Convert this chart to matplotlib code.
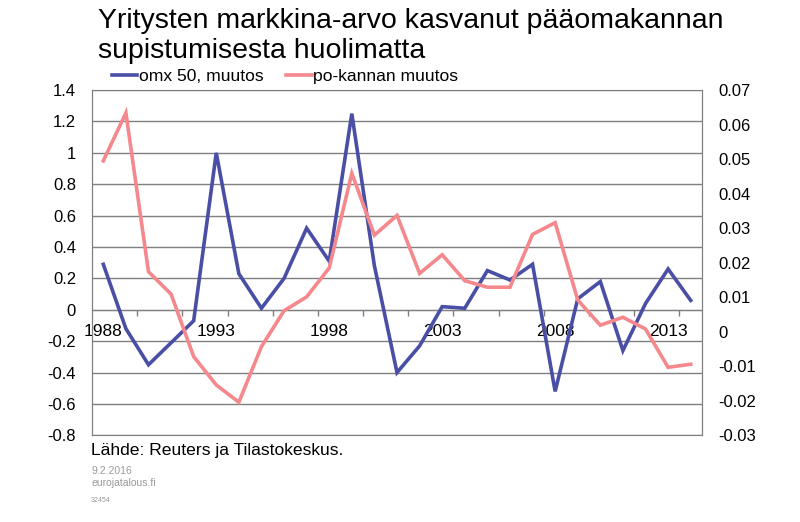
import matplotlib
matplotlib.use("Agg")
import matplotlib.pyplot as plt
from matplotlib.lines import Line2D

plt.rcParams['font.family'] = ['Liberation Sans', 'DejaVu Sans']

years = list(range(1988, 2015))
omx = [0.29, -0.12, -0.35, -0.21, -0.07, 1.00, 0.23, 0.01, 0.20, 0.52,
       0.31, 1.25, 0.28, -0.40, -0.23, 0.02, 0.01, 0.25, 0.19, 0.29,
       -0.52, 0.07, 0.18, -0.26, 0.04, 0.26, 0.06]
po = [0.0495, 0.0634, 0.0174, 0.0109, -0.0072, -0.0154, -0.0204, -0.0043, 0.0061, 0.0101,
      0.0185, 0.0459, 0.0280, 0.0337, 0.0169, 0.0223, 0.0148, 0.0129, 0.0129, 0.0282,
      0.0316, 0.0092, 0.0019, 0.0042, 0.0008, -0.0103, -0.0094]
left_ticks = [-0.8, -0.6, -0.4, -0.2, 0, 0.2, 0.4, 0.6, 0.8, 1, 1.2, 1.4]
left_labels = ['-0.8', '-0.6', '-0.4', '-0.2', '0', '0.2', '0.4', '0.6', '0.8', '1', '1.2', '1.4']
right_ticks = [-0.03, -0.02, -0.01, 0, 0.01, 0.02, 0.03, 0.04, 0.05, 0.06, 0.07]
right_labels = ['-0.03', '-0.02', '-0.01', '0', '0.01', '0.02', '0.03', '0.04', '0.05', '0.06', '0.07']
label_years = [1988, 1993, 1998, 2003, 2008, 2013]

title_lines = ["Yritysten markkina-arvo kasvanut pääomakannan", "supistumisesta huolimatta"]
name_omx = "omx 50, muutos"
name_po = "po-kannan muutos"

BLUE = '#4A4FA6'
PINK = '#F4888C'
GRID = '#7f7f7f'

fig = plt.figure(figsize=(8, 5.22), dpi=100)
ax = fig.add_axes([0.115, 0.166, 0.7625, 0.6614])
ax2 = ax.twinx()

x = list(range(len(years)))
ax.plot(x, omx, color=BLUE, lw=2.6, solid_joinstyle='miter', zorder=3)
ax2.plot(x, po, color=PINK, lw=2.6, solid_joinstyle='miter', zorder=3)

ax.set_xlim(-0.5, len(years) - 0.5)
ax.set_ylim(-0.8, 1.4)
ax2.set_ylim(-0.03, 0.07)

ax.set_yticks(left_ticks)
ax.set_yticklabels(left_labels)
ax2.set_yticks(right_ticks)
ax2.set_yticklabels(right_labels)
ax.tick_params(axis='y', length=0, pad=11.5, labelsize=12)
ax2.tick_params(axis='y', length=0, pad=11.5, labelsize=12)
ax.yaxis.grid(True, color=GRID, lw=1)
ax.set_axisbelow(True)

# category axis at zero
ax.spines['bottom'].set_position(('data', 0))
ax.spines['bottom'].set_color(GRID)
ax.spines['top'].set_visible(False)
for a in (ax, ax2):
    a.spines['left'].set_color(GRID)
    a.spines['right'].set_color(GRID)
    a.spines['top'].set_color(GRID)
ax2.spines['bottom'].set_color(GRID)

ax.set_xticks([years.index(y) for y in label_years])
ax.set_xticklabels([str(y) for y in label_years])
ax.set_xticks([i + 0.5 for i in range(1, len(years) - 1, 2)], minor=True)
ax.tick_params(axis='x', which='major', length=0, pad=10.5, labelsize=12.5)
ax.tick_params(axis='x', which='minor', length=4, direction='out', color=GRID, width=1)

fig.text(98 / 800, 1 - 28 / 522, title_lines[0], fontsize=20.5, va='baseline', ha='left')
fig.text(98 / 800, 1 - 58 / 522, title_lines[1], fontsize=20.5, va='baseline', ha='left')

handles = [Line2D([], [], color=BLUE, lw=2.6), Line2D([], [], color=PINK, lw=2.6)]
fig.legend(handles, [name_omx, name_po], loc='center left',
           bbox_to_anchor=(112 / 800, 1 - 76.5 / 522), ncol=2, frameon=False,
           fontsize=12.6, handlelength=1.45, handletextpad=0.08, columnspacing=1.3,
           borderaxespad=0, borderpad=0)

fig.text(91 / 800, 1 - 451 / 522, "Lähde: Reuters ja Tilastokeskus.", fontsize=12.6,
         va='center', ha='left')
fig.text(91 / 800, 1 - 471 / 522, "9.2.2016", fontsize=7.5, color='#999999',
         va='center', ha='left')
fig.text(91 / 800, 1 - 483 / 522, "eurojatalous.fi", fontsize=7.5, color='#999999',
         va='center', ha='left')
fig.text(91 / 800, 1 - 500 / 522, "32454", fontsize=5, color='#999999',
         va='center', ha='left')

fig.savefig('out.png', dpi=100)
